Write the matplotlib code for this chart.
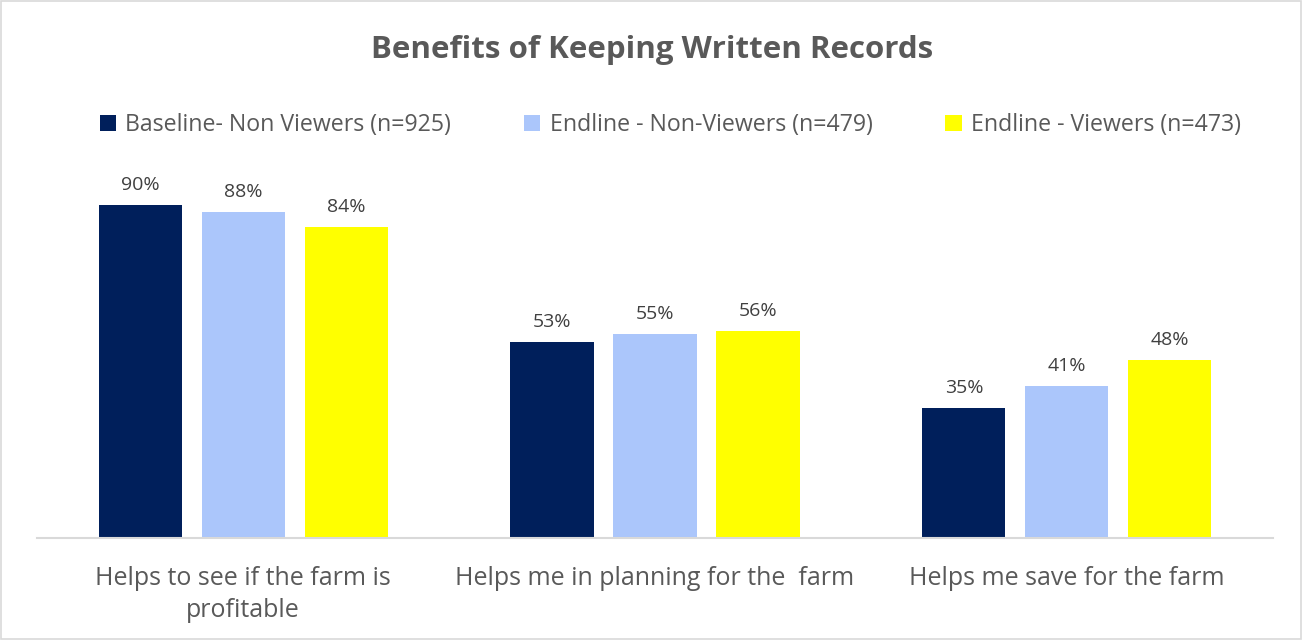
import matplotlib.pyplot as plt
import numpy as np

plt.rcParams['font.family'] = ['Open Sans', 'DejaVu Sans']

categories = ["Helps to see if the farm is\nprofitable",
              "Helps me in planning for the  farm",
              "Helps me save for the farm"]
series = ["Baseline- Non Viewers (n=925)",
          "Endline - Non-Viewers (n=479)",
          "Endline - Viewers (n=473)"]
baseline = [90, 53, 35]
endline_non = [88, 55, 41]
endline_viewers = [84, 56, 48]
colors = ["#001f5b", "#abc6fb", "#ffff00"]

fig = plt.figure(figsize=(13.04, 6.4), dpi=100)
ax = fig.add_axes([0.0284, 0.1594, 0.9478, 0.5781])

x = np.arange(len(categories))
width = 0.2015
for i, (vals, name, c) in enumerate(zip([baseline, endline_non, endline_viewers], series, colors)):
    bars = ax.bar(x + (i - 1) * 0.25, vals, width, color=c, label=name)
    for b, v in zip(bars, vals):
        ax.annotate(f"{v}%", (b.get_x() + b.get_width() / 2, v), xytext=(0, 8),
                    textcoords='offset points', ha='center', va='bottom',
                    fontsize=14, color='#404040')

ax.set_xlim(-0.5, 2.5)
ax.set_ylim(0, 100)
ax.set_yticks([])
ax.set_xticks(x)
ax.set_xticklabels(categories, fontsize=18, color='#595959', linespacing=1.4)
ax.tick_params(axis='x', length=0, pad=20)
for s in ['top', 'left', 'right']:
    ax.spines[s].set_visible(False)
ax.spines['bottom'].set_color('#d9d9d9')
ax.spines['bottom'].set_linewidth(1.5)

fig.text(0.5, 0.922, "Benefits of Keeping Written Records", ha='center', va='center',
         fontsize=22.5, fontweight='bold', color='#595959')

leg = fig.legend(loc='center', bbox_to_anchor=(0.514, 0.805), ncol=3, frameon=False,
                 fontsize=16.7, handlelength=0.7, handleheight=0.7, handletextpad=0.4,
                 columnspacing=3.15)
for t in leg.get_texts():
    t.set_color('#595959')

# light border around the whole chart
fig.patches.append(plt.Rectangle((0.001, 0.002), 0.997, 0.996, transform=fig.transFigure,
                                 fill=False, edgecolor='#d9d9d9', linewidth=1.2))

fig.savefig("out.png", dpi=100)
